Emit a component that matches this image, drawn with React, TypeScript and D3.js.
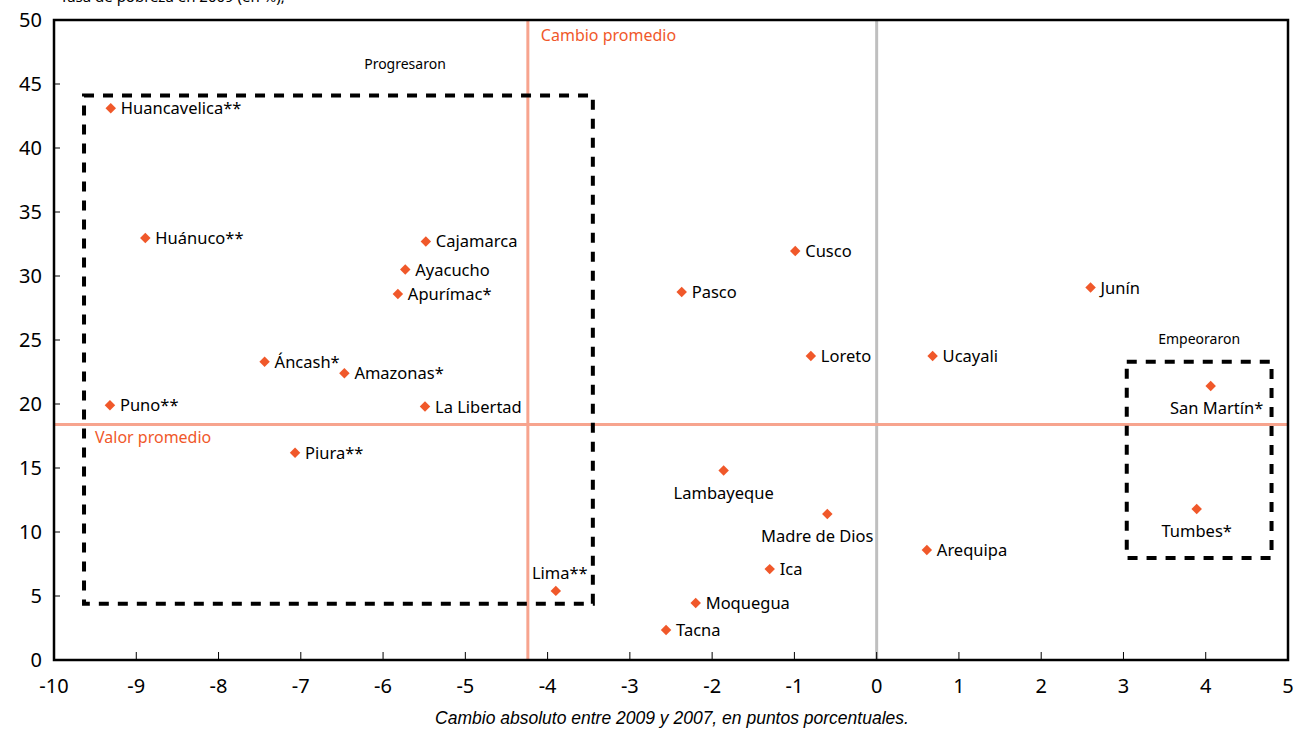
import React from "react";
import * as d3 from "d3";

const regions = ["Huancavelica**","Huánuco**","Cajamarca","Ayacucho","Apurímac*","Áncash*","Amazonas*","Puno**","La Libertad","Piura**","Lima**","Pasco","Cusco","Loreto","Ucayali","Junín","San Martín*","Tumbes*","Lambayeque","Madre de Dios","Arequipa","Ica","Moquegua","Tacna"];
const changeValues = [-9.31,-8.89,-5.48,-5.73,-5.82,-7.44,-6.47,-9.32,-5.49,-7.07,-3.9,-2.37,-0.99,-0.8,0.68,2.6,4.06,3.89,-1.86,-0.6,0.61,-1.3,-2.2,-2.56];
const povertyValues = [43.1,32.97,32.7,30.5,28.6,23.3,22.4,19.9,19.8,16.2,5.4,28.75,31.95,23.75,23.75,29.1,21.4,11.8,14.8,11.4,8.6,7.1,4.45,2.34];
const labelPlacement = ["right","right","right","right","right","right","right","right","right","right","above","right","right","right","right","right","below","below","below","below","right","right","right","right"];
const xTicks = [-10,-9,-8,-7,-6,-5,-4,-3,-2,-1,0,1,2,3,4,5];
const yTicks = [0,5,10,15,20,25,30,35,40,45,50];
const avgChange = -4.24;
const avgPoverty = 18.4;
const boxProgress = { x0: -9.635, x1: -3.45, y0: 4.4, y1: 44.1 };
const boxWorse = { x0: 3.04, x1: 4.8, y0: 7.97, y1: 23.3 };

const W = 1301, H = 733;
const left = 54, right = 1288, top = 20, bottom = 660;
const font = "'Noto Sans', 'Open Sans', sans-serif";

export default function App() {
  const x = d3.scaleLinear().domain([-10, 5]).range([left, right]);
  const y = d3.scaleLinear().domain([0, 50]).range([bottom, top]);
  const diamond = d3.symbol().type(d3.symbolDiamond2).size(70)();
  const orange = "#f0582a";
  const salmon = "#f7a48e";

  const box = (b: any, key: string) => (
    <rect key={key} x={x(b.x0)} y={y(b.y1)} width={x(b.x1) - x(b.x0)} height={y(b.y0) - y(b.y1)}
      fill="none" stroke="#000" strokeWidth={4} strokeDasharray="10,9" />
  );

  return (
    <div style={{ position: "absolute", left: 0, top: 0 }}>
      <svg width={W} height={H} style={{ display: "block", background: "#fff" }}>
        <rect x={0} y={0} width={W} height={H} fill="#fff" />
        <text x={60} y={2} fontFamily={font} fontSize={15} fill="#000">Tasa de pobreza en 2009 (en %),</text>
        {/* zero line */}
        <line x1={x(0)} x2={x(0)} y1={top} y2={bottom} stroke="#bfbfbf" strokeWidth={3} />
        {/* average lines */}
        <line x1={x(avgChange)} x2={x(avgChange)} y1={top} y2={bottom} stroke={salmon} strokeWidth={3} />
        <line x1={left} x2={right} y1={y(avgPoverty)} y2={y(avgPoverty)} stroke={salmon} strokeWidth={3} />
        <text x={x(avgChange) + 13} y={41} fontFamily={font} fontSize={16} fill={orange}>Cambio promedio</text>
        <text x={95} y={443} fontFamily={font} fontSize={16} fill={orange}>Valor promedio</text>
        {box(boxProgress, "bp")}
        {box(boxWorse, "bw")}
        <text x={405} y={69} textAnchor="middle" fontFamily={font} fontSize={14} fill="#000">Progresaron</text>
        <text x={(x(boxWorse.x0) + x(boxWorse.x1)) / 2} y={344} textAnchor="middle" fontFamily={font} fontSize={14} fill="#000">Empeoraron</text>
        {/* frame */}
        <rect x={left} y={top} width={right - left} height={bottom - top} fill="none" stroke="#000" strokeWidth={2.5} />
        {/* ticks */}
        {xTicks.map((t) => (
          <g key={"x" + t}>
            <line x1={x(t)} x2={x(t)} y1={bottom} y2={bottom - 8} stroke="#000" strokeWidth={1} />
            <text x={x(t)} y={bottom + 33} textAnchor="middle" fontFamily={font} fontSize={20} fill="#000">{t}</text>
          </g>
        ))}
        {yTicks.map((t) => (
          <g key={"y" + t}>
            <line x1={left} x2={left + 6} y1={y(t)} y2={y(t)} stroke="#000" strokeWidth={1} />
            <text x={left - 12} y={y(t) + 7} textAnchor="end" fontFamily={font} fontSize={20} fill="#000">{t}</text>
          </g>
        ))}
        <text x={672} y={724} textAnchor="middle" fontFamily="'Liberation Sans', Arial, sans-serif" fontStyle="italic" fontSize={17.5} fill="#000">Cambio absoluto entre 2009 y 2007, en puntos porcentuales.</text>
        {/* points */}
        {regions.map((r, i) => {
          const px = x(changeValues[i]);
          const py = y(povertyValues[i]);
          const pl = labelPlacement[i];
          let lx = px + 10, ly = py + 6, anchor = "start";
          if (pl === "below") { lx = px; ly = py + 28; anchor = "middle"; }
          if (pl === "above") { lx = px + 4; ly = py - 12; anchor = "middle"; }
          if (r === "Madre de Dios") lx = px - 10;
          if (r === "San Martín*") lx = px + 6;
          return (
            <g key={r}>
              <path d={diamond} transform={`translate(${px},${py})`} fill={orange} />
              <text x={lx} y={ly} textAnchor={anchor} fontFamily={font} fontSize={16.5} fill="#000">{r}</text>
            </g>
          );
        })}
      </svg>
    </div>
  );
}
